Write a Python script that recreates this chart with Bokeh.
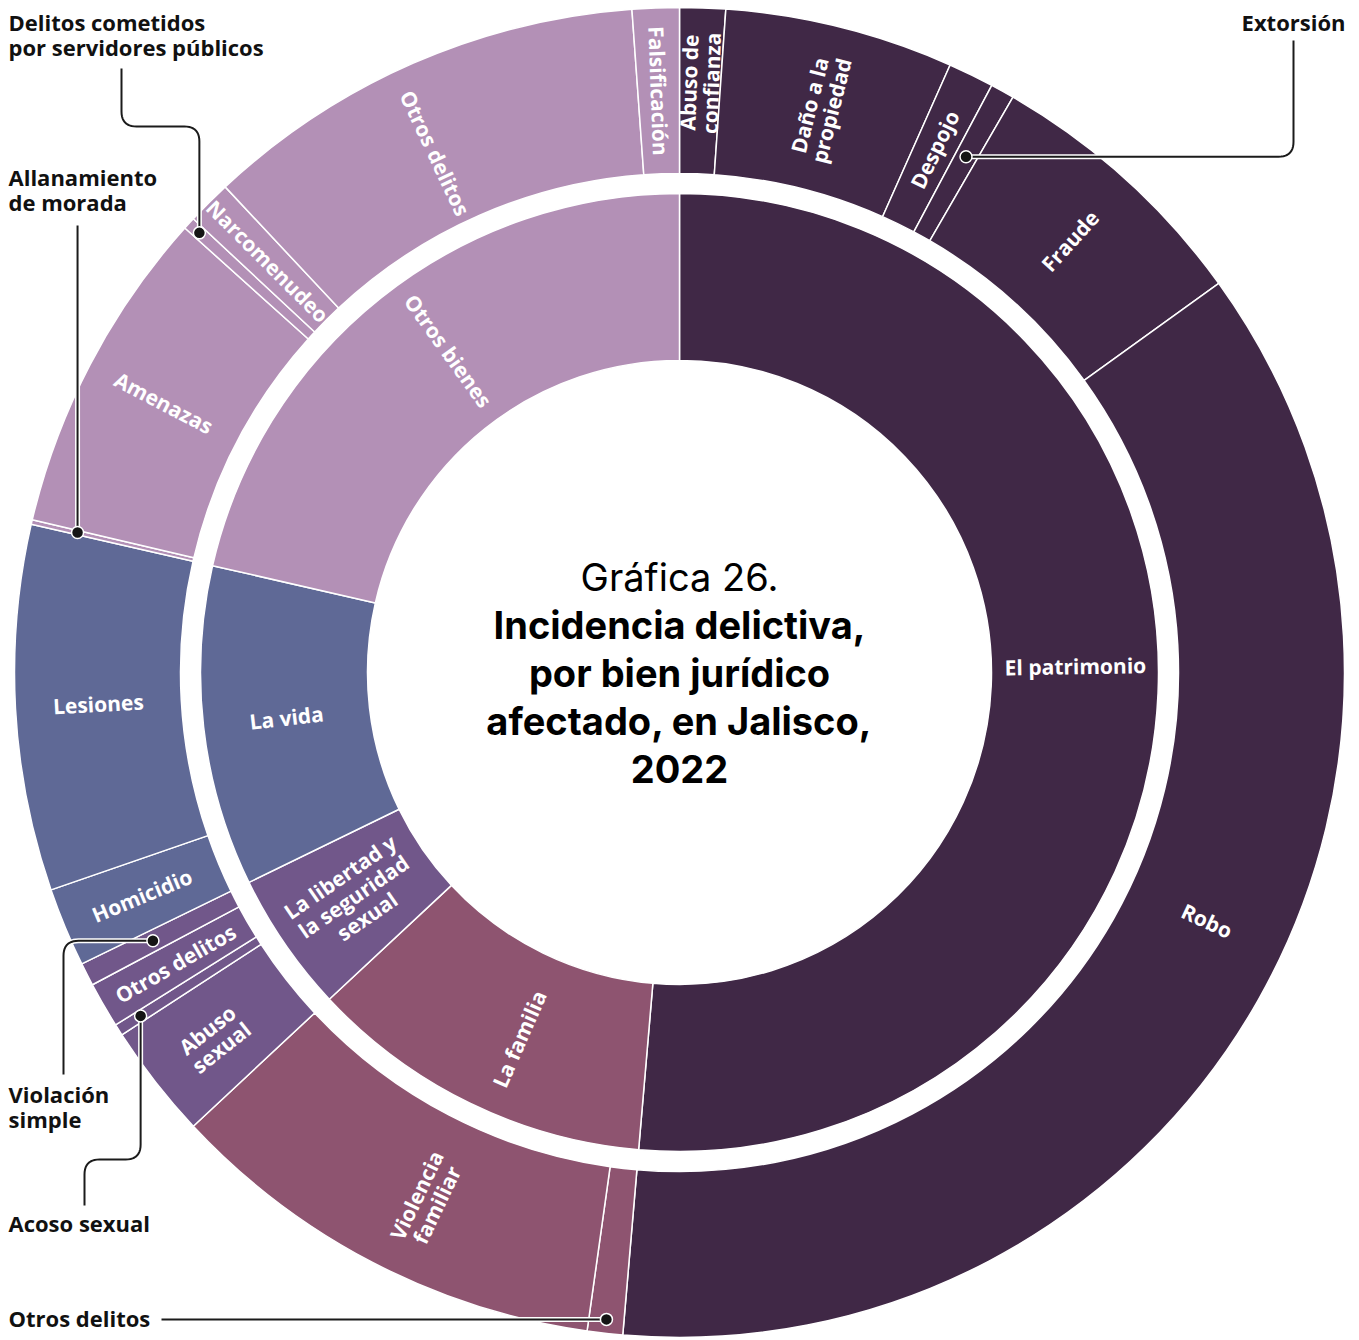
import numpy as np
from bokeh.plotting import figure
from bokeh.models import Range1d
from bokeh.core.properties import value
from bokeh.embed import file_html
from bokeh.resources import INLINE

# ---------------- DATA (share of total incidence, %) ----------------
groups = ["El patrimonio", "La familia", "La libertad y la seguridad sexual", "La vida", "Otros bienes"]
group_labels = ["El patrimonio", "La familia", "La libertad y\nla seguridad\nsexual", "La vida", "Otros bienes"]
group_colors = ["#402846", "#8e5470", "#71578a", "#5f6996", "#b390b6"]

patrimonio_cats = ["Abuso de\nconfianza", "Daño a la\npropiedad", "Despojo", "Extorsión", "Fraude", "Robo"]
patrimonio_vals = [1.11, 5.56, 1.11, 0.58, 6.69, 36.31]

familia_cats = ["Otros delitos", "Violencia\nfamiliar"]
familia_vals = [0.86, 10.83]

libertad_cats = ["Abuso\nsexual", "Acoso sexual", "Otros delitos", "Violación\nsimple"]
libertad_vals = [2.78, 0.28, 1.11, 0.56]

vida_cats = ["Homicidio", "Lesiones"]
vida_vals = [1.92, 8.88]

bienes_cats = ["Allanamiento\nde morada", "Amenazas", "Delitos cometidos\npor servidores públicos",
               "Narcomenudeo", "Otros delitos", "Falsificación"]
bienes_vals = [0.11, 7.96, 0.30, 1.08, 10.83, 1.14]

title_lines = ["Gráfica 26.", "Incidencia delictiva,", "por bien jurídico",
               "afectado, en Jalisco,", "2022"]

# ---------------- GEOMETRY ----------------
W, H = 1359, 1340
CX, CY = 679, H - 672
R0, R1 = 312, 479      # inner ring
R2, R3 = 499, 665      # outer ring
FONT = "Open Sans"

# label placement tweaks (angle clockwise from 12 o'clock, radius)
inner_label_pos = {"El patrimonio": (89.1, 396), "Otros bienes": (324.3, 396),
                   "La familia": (203.6, 400)}
outer_label_pos = {("El patrimonio", "Robo"): (115.2, 583),
                   ("El patrimonio", "Abuso de\nconfianza"): (2.0, 590),
                   ("Otros bienes", "Otros delitos"): (334.8, 574),
                   ("La familia", "Violencia\nfamiliar"): (205.6, 585),
                   ("La libertad y la seguridad sexual", "Abuso\nsexual"): (231.8, 592)}


def px(X, Y):
    """page pixel -> figure coords"""
    return X, H - Y


def polar(theta_deg, r):
    t = np.deg2rad(theta_deg)
    return CX + r * np.sin(t), CY + r * np.cos(t)


def bokeh_ang(theta_deg):
    return np.deg2rad(90.0 - np.asarray(theta_deg))


def text_rot(theta_deg):
    th = np.asarray(theta_deg, float)
    return np.deg2rad(np.where(th < 180, 90 - th, 270 - th))


child_cats = [patrimonio_cats, familia_cats, libertad_cats, vida_cats, bienes_cats]
child_vals = [patrimonio_vals, familia_vals, libertad_vals, vida_vals, bienes_vals]

group_vals = np.array([sum(v) for v in child_vals])
total = group_vals.sum()
g_end = np.cumsum(group_vals) / total * 360.0
g_start = np.concatenate([[0.0], g_end[:-1]])

c_names, c_groups, c_vals, c_cols = [], [], [], []
for g, cats, vals, col in zip(groups, child_cats, child_vals, group_colors):
    c_names += cats
    c_groups += [g] * len(cats)
    c_vals += vals
    c_cols += [col] * len(vals)
c_vals = np.array(c_vals)
c_end = np.cumsum(c_vals) / total * 360.0
c_start = np.concatenate([[0.0], c_end[:-1]])
c_mid = (c_start + c_end) / 2
c_span = c_end - c_start

p = figure(width=W, height=H, x_range=Range1d(0, W), y_range=Range1d(0, H),
           x_axis_type=None, y_axis_type=None, toolbar_location=None,
           output_backend="svg", min_border=0, outline_line_color=None,
           background_fill_color="white", border_fill_color="white")
p.grid.visible = False

# inner ring
p.annular_wedge(x=CX, y=CY, inner_radius=R0, outer_radius=R1,
                start_angle=bokeh_ang(g_start), end_angle=bokeh_ang(g_end),
                direction="clock", fill_color=group_colors,
                line_color="white", line_width=1.5)
# outer ring
p.annular_wedge(x=CX, y=CY, inner_radius=R2, outer_radius=R3,
                start_angle=bokeh_ang(c_start), end_angle=bokeh_ang(c_end),
                direction="clock", fill_color=c_cols,
                line_color="white", line_width=1.5)

# inner labels
g_mid = (g_start + g_end) / 2
g_th, g_r = [], []
for g, m in zip(groups, g_mid):
    th, r = inner_label_pos.get(g, (m, (R0 + R1) / 2))
    g_th.append(th)
    g_r.append(r)
gx, gy = polar(np.array(g_th), np.array(g_r))
p.text(x=gx, y=gy, text=group_labels, angle=text_rot(g_th),
       text_align="center", text_baseline="middle", text_color="white",
       text_font=value(FONT), text_font_style="bold", text_font_size="21px",
       text_line_height=0.85)

# outer labels (in-ring for wide segments)
inside = c_span > 3.5
o_th, o_r, o_txt = [], [], []
for g, n, m, k in zip(c_groups, c_names, c_mid, inside):
    if not k:
        continue
    th, r = outer_label_pos.get((g, n), (m, (R2 + R3) / 2))
    o_th.append(th)
    o_r.append(r)
    o_txt.append(n)
ox, oy = polar(np.array(o_th), np.array(o_r))
p.text(x=ox, y=oy, text=o_txt, angle=text_rot(o_th),
       text_align="center", text_baseline="middle", text_color="white",
       text_font=value(FONT), text_font_style="bold", text_font_size="21px",
       text_line_height=0.8)

# ---------------- CALLOUTS ----------------
def rounded(points, r):
    pts = [np.array(pt, float) for pt in points]
    out = [pts[0]]
    for i in range(1, len(pts) - 1):
        A, P, B = pts[i - 1], pts[i], pts[i + 1]
        da = (A - P) / np.linalg.norm(A - P)
        db = (B - P) / np.linalg.norm(B - P)
        p0, p2 = P + da * r, P + db * r
        for t in np.linspace(0, 1, 12):
            out.append((1 - t) ** 2 * p0 + 2 * (1 - t) * t * P + t ** 2 * p2)
    out.append(pts[-1])
    arr = np.array(out)
    return list(arr[:, 0]), list(arr[:, 1])


callout_names = [n for n, k in zip(c_names, inside) if not k]
callout_mid = c_mid[~inside]
# dot radius and leader layout (page coordinates) for each callout
layout = {
    "Extorsión": dict(r=590, label=(1345, 21), align="right",
                      path=lambda d: [(1293, 40), (1293, d[1]), d]),
    "Delitos cometidos\npor servidores públicos": dict(r=651, label=(8, 34), align="left",
                      path=lambda d: [(121, 68), (121, 126), (d[0], 126), d]),
    "Allanamiento\nde morada": dict(r=618, label=(8, 189), align="left",
                      path=lambda d: [(d[0], 225), d]),
    "Violación\nsimple": dict(r=591, label=(8, 1106), align="left",
                      path=lambda d: [d, (63, d[1]), (63, 1074)]),
    "Acoso sexual": dict(r=639, label=(8, 1222), align="left",
                      path=lambda d: [d, (d[0], 1159), (84, 1159), (84, 1205)]),
    "Otros delitos": dict(r=651, label=(8, 1317), align="left",
                      path=lambda d: [(161, d[1]), d]),
}

dots_x, dots_y, lxs, lys = [], [], [], []
for name, th in zip(callout_names, callout_mid):
    L = layout[name]
    dx, dy = polar(th, L["r"])
    dpage = (dx, H - dy)
    pts = [px(*q) for q in L["path"](dpage)]
    xs, ys = rounded(pts, 15)
    lxs.append(xs)
    lys.append(ys)
    dots_x.append(dx)
    dots_y.append(dy)
    tx, ty = px(*L["label"])
    p.text(x=[tx], y=[ty], text=[name], text_align=L["align"], text_baseline="middle",
           text_color="#111111", text_font=value(FONT), text_font_style="bold",
           text_font_size="22px", text_line_height=0.85)

p.multi_line(xs=lxs, ys=lys, line_color="white", line_width=5, line_join="round")
p.multi_line(xs=lxs, ys=lys, line_color="#1b1b1b", line_width=2, line_join="round")
p.scatter(x=dots_x, y=dots_y, size=12, fill_color="#151515", line_color="white", line_width=1.5)

# ---------------- CENTER TITLE ----------------
for i, line in enumerate(title_lines):
    p.text(x=[CX], y=[CY + (2 - i) * 48], text=[line], text_align="center",
           text_baseline="middle", text_color="black", text_font=value("Inter"),
           text_font_style="normal" if i == 0 else "bold", text_font_size="38px")

open("out.html", "w").write(file_html(p, INLINE))
